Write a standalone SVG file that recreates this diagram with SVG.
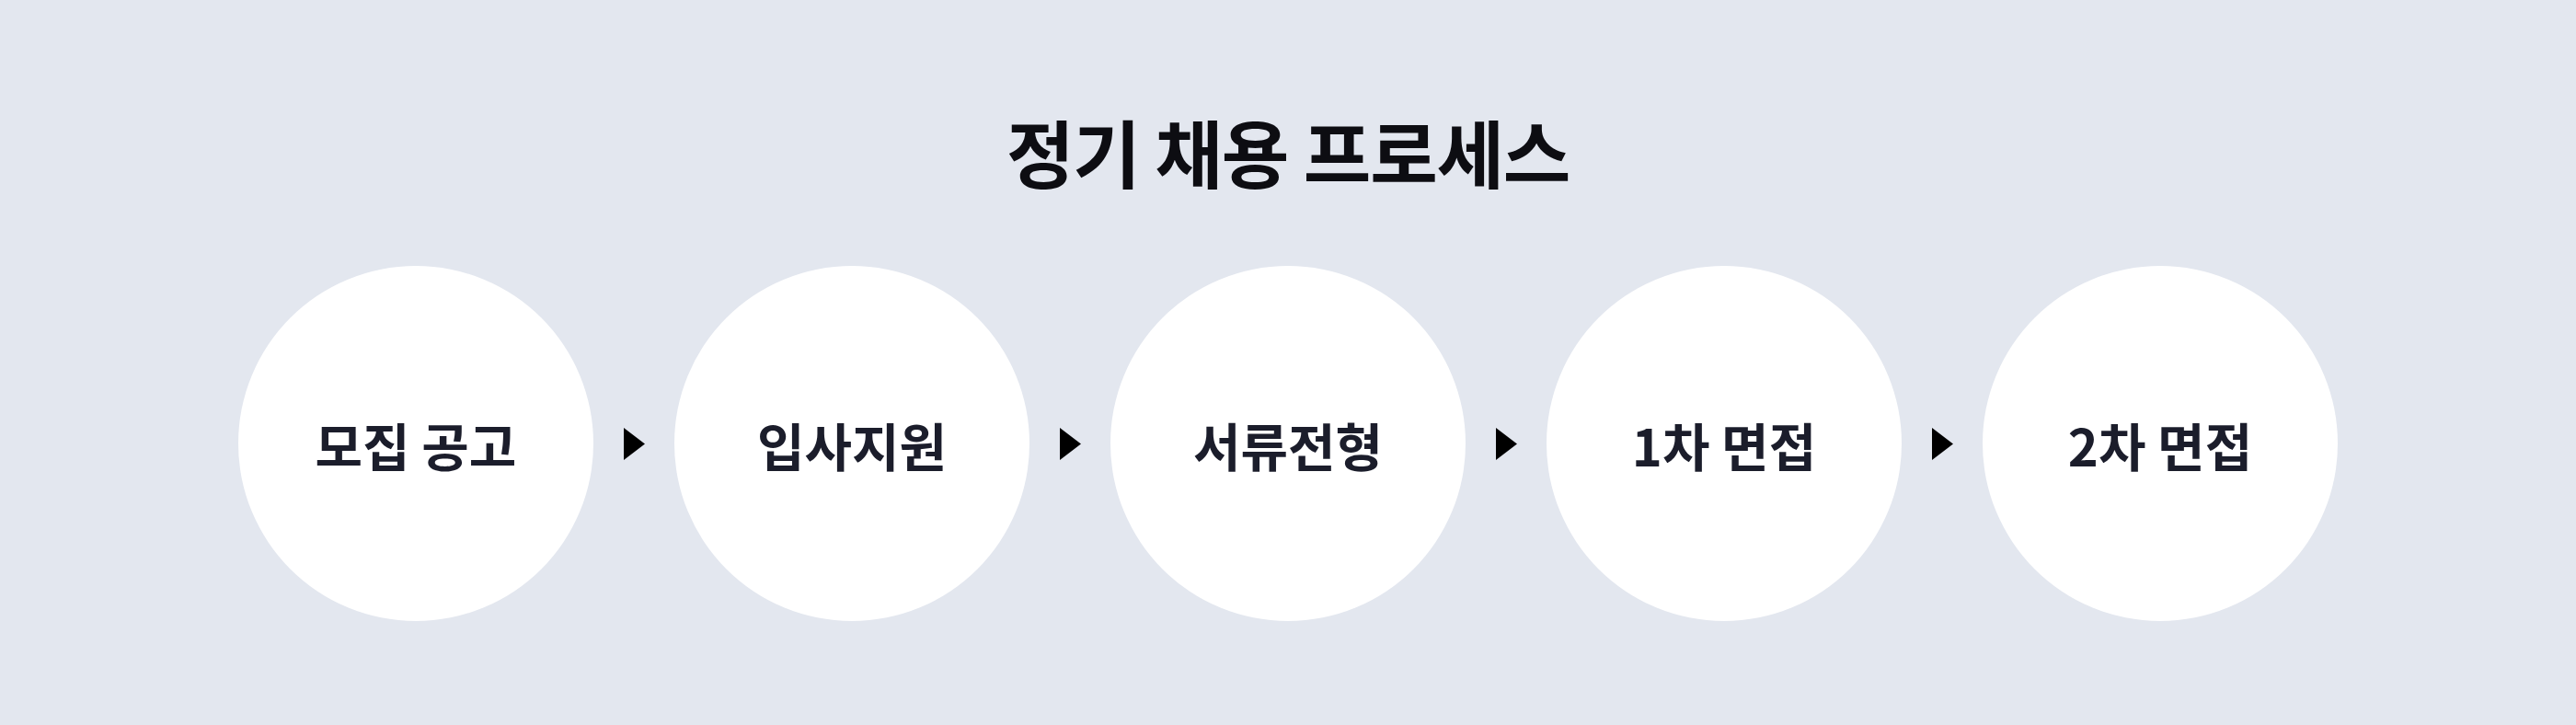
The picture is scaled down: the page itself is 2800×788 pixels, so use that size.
<svg xmlns="http://www.w3.org/2000/svg" width="2800" height="788" viewBox="0 0 2800 788">
<style>
.title{font-family:"Noto Sans CJK KR","Noto Sans",sans-serif;font-weight:700;font-size:80px;letter-spacing:-1.3px;fill:#0d0d12;text-anchor:middle}
.node circle{fill:#ffffff}
.node text{font-family:"Noto Sans CJK KR","Noto Sans",sans-serif;font-weight:700;font-size:56px;fill:#1b1d2b;text-anchor:middle;dominant-baseline:central}
.arrow{fill:#000000}
</style>
<rect width="2800" height="788" fill="#e3e7ef"/>
<text class="title" x="1400" y="198">정기 채용 프로세스</text>
<g id="node1" class="node"><circle cx="452" cy="482" r="193"/><text x="452" y="482">모집 공고</text></g>
<g id="node2" class="node"><circle cx="926" cy="482" r="193"/><text x="926" y="482">입사지원</text></g>
<g id="node3" class="node"><circle cx="1400" cy="482" r="193"/><text x="1400" y="482">서류전형</text></g>
<g id="node4" class="node"><circle cx="1874" cy="482" r="193"/><text x="1874" y="482">1차 면접</text></g>
<g id="node5" class="node"><circle cx="2348" cy="482" r="193"/><text x="2348" y="482">2차 면접</text></g>
<g id="connectors">
<polygon class="arrow" points="678,465 701,482.5 678,500"/>
<polygon class="arrow" points="1152,465 1175,482.5 1152,500"/>
<polygon class="arrow" points="1626,465 1649,482.5 1626,500"/>
<polygon class="arrow" points="2100,465 2123,482.5 2100,500"/>
</g>
</svg>
